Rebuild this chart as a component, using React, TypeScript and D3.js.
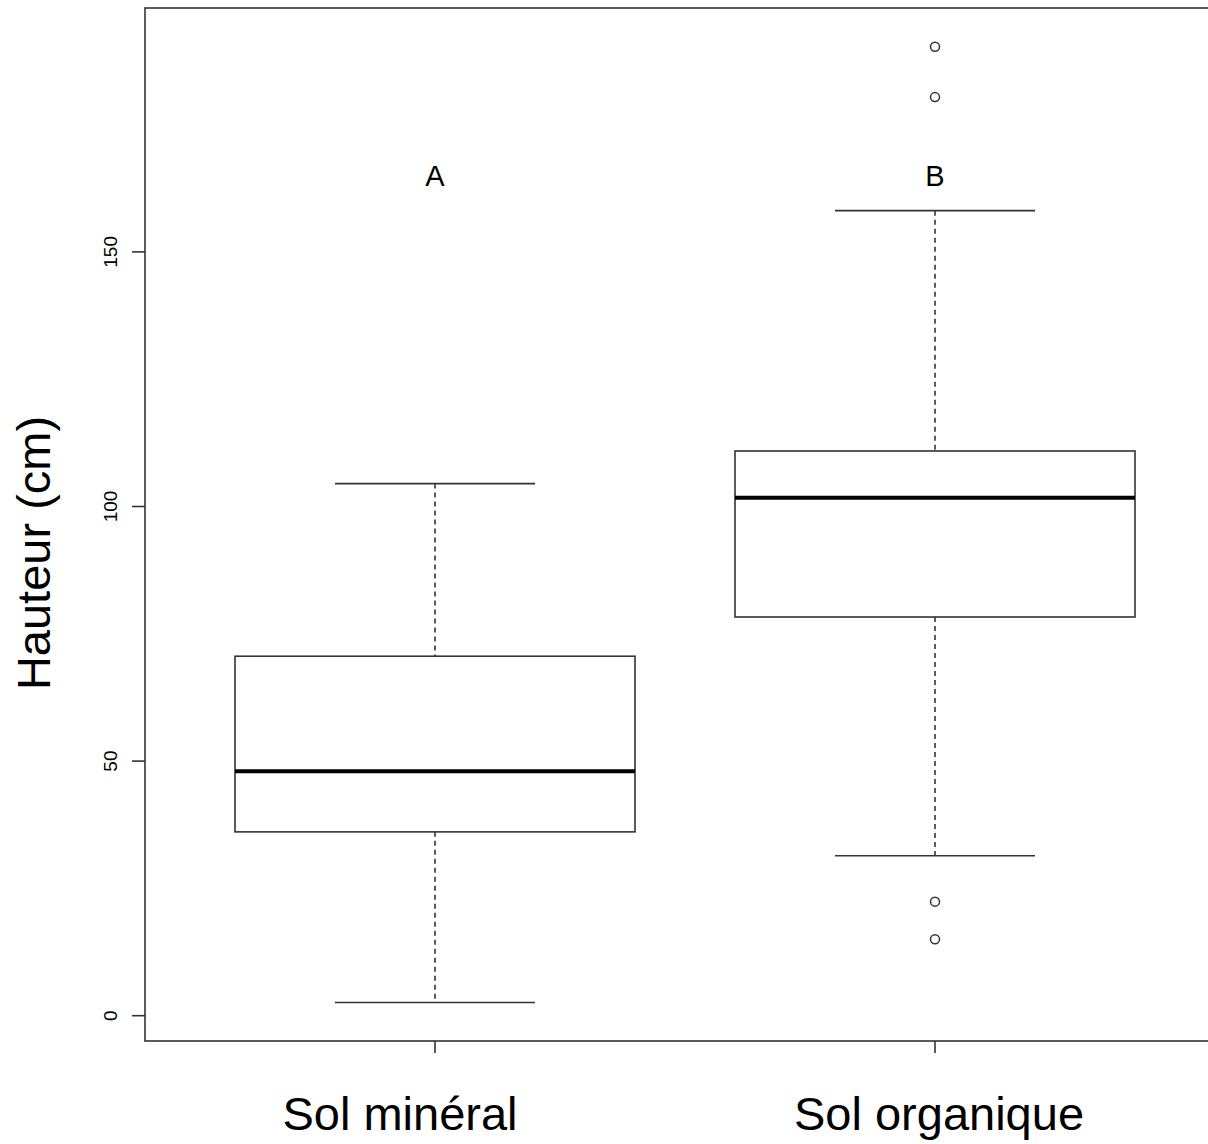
import React from "react";
import * as d3 from "d3";

const categories = ["Sol minéral", "Sol organique"];
const lowerWhisker = [2.6, 31.4];
const q1 = [36.1, 78.3];
const median = [48.0, 101.7];
const q3 = [70.6, 110.9];
const upperWhisker = [104.5, 158.1];
const outliers: number[][] = [[], [190.3, 180.4, 22.4, 15.0]];
const letters = ["A", "B"];
const letterValue = 165;
const yTicks = [0, 50, 100, 150];
const labelOffsets = [-35, 4];

const W = 1208;
const H = 1144;

export default function App() {
  const y = d3.scaleLinear().domain([-4.97, 197.9]).range([1041, 8]);
  const x = d3.scaleLinear().domain([0.42, 2.58]).range([145, 1225]);
  const boxW = x(1.4) - x(1);
  const capW = boxW / 2;
  const stroke = "#333";
  const sw = 1.6;

  return (
    <div style={{ position: "absolute", left: 0, top: 0 }}>
      <svg width={W} height={H} style={{ display: "block", background: "#fff" }} fontFamily="'Liberation Sans', Arial, sans-serif">
        <rect x={0} y={0} width={W} height={H} fill="#fff" />
        {categories.map((c, i) => {
          const cx = x(i + 1);
          return (
            <g key={c}>
              <line x1={cx} x2={cx} y1={y(upperWhisker[i])} y2={y(q3[i])} stroke={stroke} strokeWidth={sw} strokeDasharray="5,4" />
              <line x1={cx} x2={cx} y1={y(q1[i])} y2={y(lowerWhisker[i])} stroke={stroke} strokeWidth={sw} strokeDasharray="5,4" />
              <line x1={cx - capW} x2={cx + capW} y1={y(upperWhisker[i])} y2={y(upperWhisker[i])} stroke={stroke} strokeWidth={sw} />
              <line x1={cx - capW} x2={cx + capW} y1={y(lowerWhisker[i])} y2={y(lowerWhisker[i])} stroke={stroke} strokeWidth={sw} />
              <rect x={cx - boxW} y={y(q3[i])} width={2 * boxW} height={y(q1[i]) - y(q3[i])} fill="#fff" stroke={stroke} strokeWidth={sw} />
              <line x1={cx - boxW} x2={cx + boxW} y1={y(median[i])} y2={y(median[i])} stroke="#000" strokeWidth={4} />
              {outliers[i].map((v, k) => (
                <circle key={k} cx={cx} cy={y(v)} r={4.5} fill="none" stroke={stroke} strokeWidth={1.5} />
              ))}
              <text x={cx} y={y(letterValue) + 10} textAnchor="middle" fontSize={29} fill="#000">{letters[i]}</text>
              <line x1={cx} x2={cx} y1={1041} y2={1053} stroke={stroke} strokeWidth={sw} />
              <text x={cx + labelOffsets[i]} y={1130} textAnchor="middle" fontSize={47} fill="#000">{c}</text>
            </g>
          );
        })}
        {yTicks.map((t) => (
          <g key={t}>
            <line x1={132} x2={145} y1={y(t)} y2={y(t)} stroke={stroke} strokeWidth={sw} />
            <text transform={`translate(117,${y(t)}) rotate(-90)`} textAnchor="middle" fontSize={19} fill="#000">{t}</text>
          </g>
        ))}
        <rect x={145} y={8} width={1225 - 145} height={1041 - 8} fill="none" stroke={stroke} strokeWidth={sw} />
        <text transform="translate(50,553) rotate(-90)" textAnchor="middle" fontSize={47} fill="#000">Hauteur (cm)</text>
      </svg>
    </div>
  );
}
